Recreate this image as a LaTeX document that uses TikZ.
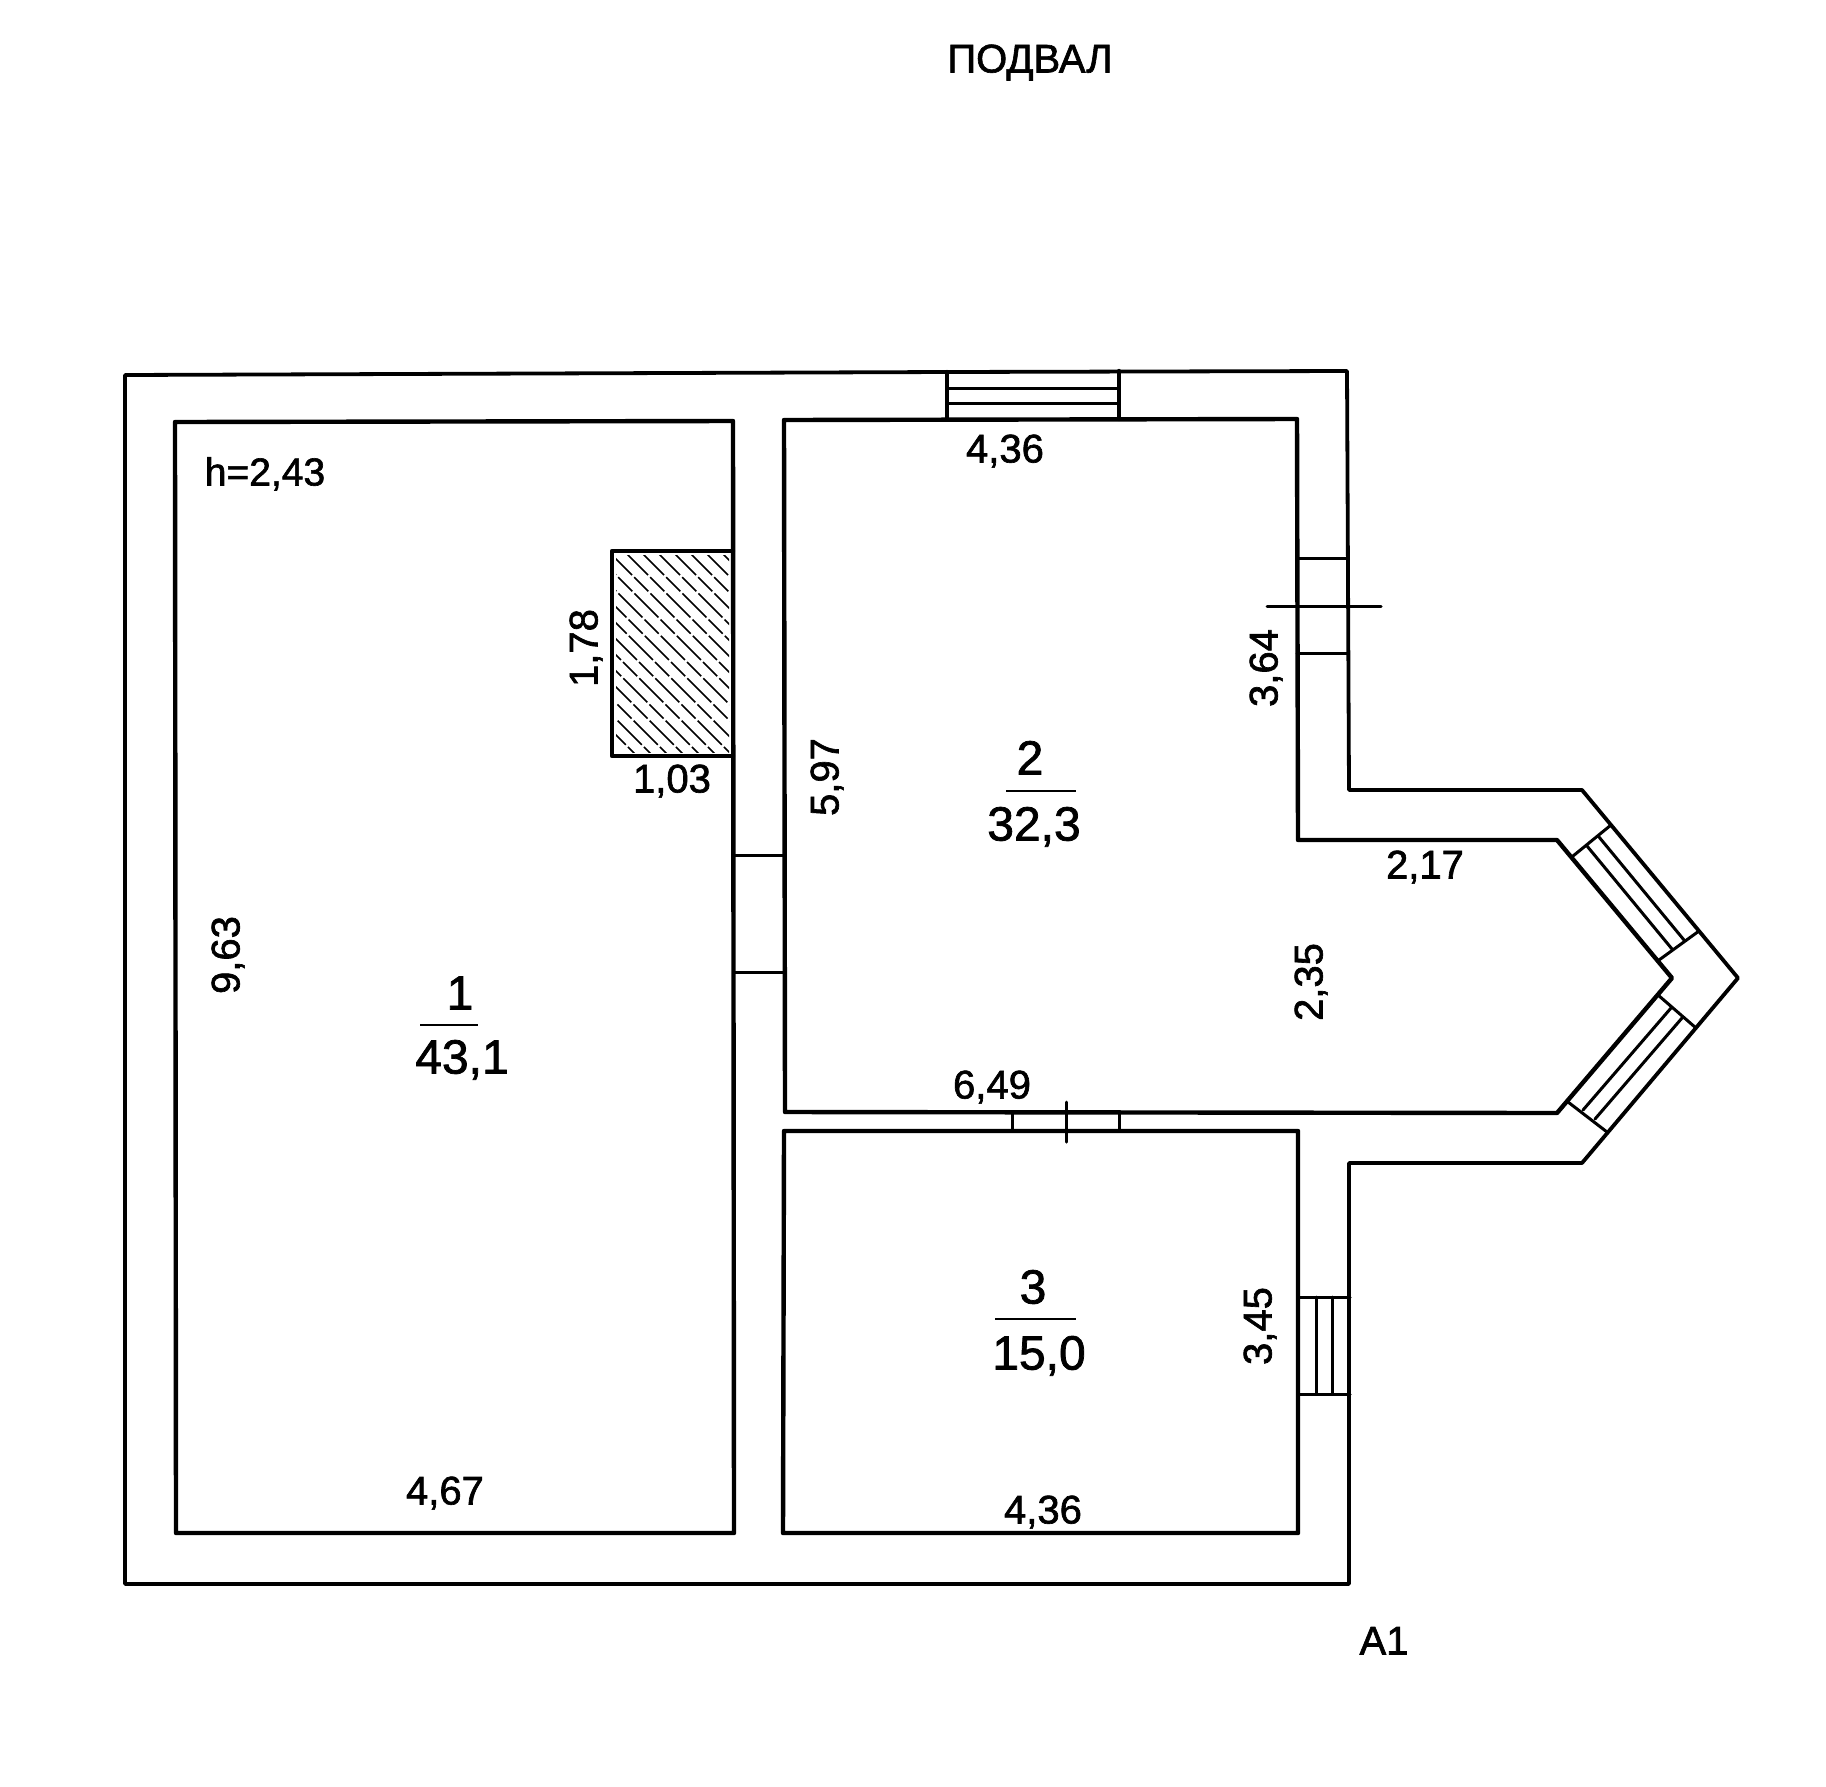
\documentclass[tikz,border=0pt]{standalone}
\usepackage{fontspec}
\setmainfont[FakeBold=1.6]{Liberation Sans}
\tikzset{
  wall/.style={line width=4.4pt,line join=round,line cap=round},
  thin wall/.style={line width=3.8pt,line join=round,line cap=round},
  fine/.style={line width=3pt,line cap=round},
  hatchline/.style={line width=1.7pt,dash pattern=on 34pt off 3pt on 20pt off 3pt},
  txt/.style={inner sep=0pt,outer sep=0pt,text height=29pt,text depth=0pt,font=\fontsize{40}{40}\selectfont},
  big/.style={inner sep=0pt,outer sep=0pt,text height=35pt,text depth=0pt,font=\fontsize{48}{48}\selectfont},
}
\begin{document}
\begin{tikzpicture}[x=1pt,y=-1pt]
\useasboundingbox (0,0) rectangle (1826,1786);
% outer contour
\draw[thin wall] (125,375) -- (947,372) -- (1347,371) -- (1349,790) -- (1582,790) -- (1738,978) -- (1582,1163) -- (1349,1163) -- (1349,1584) -- (125,1584) -- cycle;
% rooms
\draw[wall] (175,422) -- (733,421) -- (734,1533) -- (176,1533) -- cycle;
\draw[wall] (784,420) -- (1297,419) -- (1298,840) -- (1557,840) -- (1672,978) -- (1557,1113) -- (785,1112) -- cycle;
\draw[wall] (784,1131) -- (1298,1131) -- (1298,1533) -- (783,1533) -- cycle;
% chimney
\begin{scope}
\clip (616,555) rectangle (729,752);
\foreach \c in {-180,-164,...,160}
  \draw[hatchline] ({612+\c},551) -- ({612+\c+210},761);
\end{scope}
\draw[wall] (733,551) -- (612,551) -- (612,756) -- (733,756);
% top window
\draw[wall] (947,372) -- (947,419);
\draw[wall] (1119,371) -- (1119,419);
\draw[fine] (947,388) -- (1119,388);
\draw[fine] (947,403) -- (1119,403);
% right door
\draw[fine] (1297,558) -- (1347,558);
\draw[fine] (1297,653) -- (1348,653);
\draw[fine] (1267,606) -- (1381,606);
% door between 1 and 2
\draw[fine] (734,855) -- (784,855);
\draw[fine] (734,972) -- (784,972);
% door between 2 and 3
\draw[fine] (1012,1113) -- (1012,1131);
\draw[fine] (1119,1113) -- (1119,1131);
\draw[fine] (1066,1102) -- (1066,1142);
% lower right window
\draw[fine] (1299,1297) -- (1350,1297);
\draw[fine] (1299,1394) -- (1350,1394);
\draw[fine] (1316,1297) -- (1316,1394);
\draw[fine] (1332,1297) -- (1332,1394);
% bay windows
\draw[fine] (1573,856) -- (1611,825);
\draw[fine] (1659,960) -- (1699,931);
\draw[fine] (1587,846) -- (1672,949);
\draw[fine] (1599,837) -- (1684,940);
\draw[fine] (1658,995) -- (1696,1028);
\draw[fine] (1568,1102) -- (1607,1132);
\draw[fine] (1671,1008) -- (1583,1110);
\draw[fine] (1682,1018) -- (1595,1119);
% fraction bars
\draw[line width=1.8pt] (1006,791) -- (1076,791);
\draw[line width=1.8pt] (420,1025) -- (478,1025);
\draw[line width=1.8pt] (995,1319) -- (1076,1319);
% texts
\node[txt,font=\fontsize{40}{40}\selectfont] (title) at (1030,58) {ПОДВАЛ};
\node[txt] (d1) at (1005,448) {4,36};
\node[txt,rotate=90] (d2) at (1263,668) {3,64};
\node[txt,font=\fontsize{39}{39}\selectfont] (h) at (265,471) {h=2,43};
\node[txt,rotate=90] (d3) at (583,648) {1,78};
\node[txt] (d4) at (672,778) {1,03};
\node[txt,rotate=90] (d5) at (824,777) {5,97};
\node[big] (n2) at (1030,757) {2};
\node[big] (a2) at (1034,823) {32,3};
\node[txt] (d6) at (1425,864) {2,17};
\node[txt,rotate=90] (d7) at (1308,982) {2,35};
\node[txt] (d8) at (992,1084) {6,49};
\node[txt,rotate=90] (d9) at (225,955) {9,63};
\node[big] (n1) at (460,992) {1};
\node[big] (a1) at (462,1056) {43,1};
\node[big] (n3) at (1033,1286) {3};
\node[big] (a3) at (1039,1352) {15,0};
\node[txt,rotate=90] (d10) at (1257,1326) {3,45};
\node[txt] (d11) at (445,1490) {4,67};
\node[txt] (d12) at (1043,1509) {4,36};
\node[txt] (s1) at (1384,1640) {A1};
\end{tikzpicture}
\end{document}
